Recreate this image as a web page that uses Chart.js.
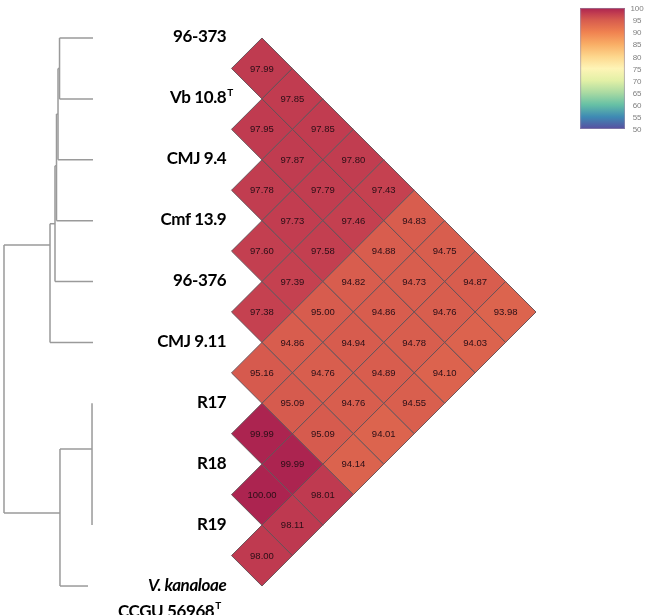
<!DOCTYPE html>
<html>
<head>
<meta charset="utf-8">
<script src="https://cdn.jsdelivr.net/npm/chart.js@4"></script>
<style>
  html, body { margin: 0; padding: 0; background: #fff; }
  #wrap { width: 648px; height: 615px; }
</style>
</head>
<body>
<div id="wrap"><canvas id="myChart"></canvas></div>
<script>
// strains in tree order (top to bottom)
const strains = ["96-373", "Vb 10.8", "CMJ 9.4", "Cmf 13.9", "96-376", "CMJ 9.11", "R17", "R18", "R19", "V. kanaloae"];
const strainLine2 = ["", "", "", "", "", "", "", "", "", "CCGU 56968"];
const typeStrain = [false, true, false, false, false, false, false, false, false, true];
const italicName = [false, false, false, false, false, false, false, false, false, true];

// ANI (%) of each strain against the strains below it
const ani_96373 = [97.99, 97.85, 97.85, 97.80, 97.43, 94.83, 94.75, 94.87, 93.98];
const ani_Vb108 = [97.95, 97.87, 97.79, 97.46, 94.88, 94.73, 94.76, 94.03];
const ani_CMJ94 = [97.78, 97.73, 97.58, 94.82, 94.86, 94.78, 94.10];
const ani_Cmf139 = [97.60, 97.39, 95.00, 94.94, 94.89, 94.55];
const ani_96376 = [97.38, 94.86, 94.76, 94.76, 94.01];
const ani_CMJ911 = [95.16, 95.09, 95.09, 94.14];
const ani_R17 = [99.99, 99.99, 98.01];
const ani_R18 = [100.00, 98.11];
const ani_R19 = [98.00];
const aniRows = [ani_96373, ani_Vb108, ani_CMJ94, ani_Cmf139, ani_96376, ani_CMJ911, ani_R17, ani_R18, ani_R19];

// dendrogram (depth: 0 = root, 1 = tips)
const leafDepth = [1, 1, 1, 1, 1, 1, 0.989, 0.989, 0.989, 0.944];
const nodeNames = ["n1", "n2", "n3", "n4", "n5", "n6", "n7", "root"];
const nodeDepth = [0.624, 0.607, 0.59, 0.573, 0.517, 0.989, 0.629, 0];
const nodeY = [0.5, 1.25, 2.1, 3.05, 3.4, 6.75, 7.8, 5.6];
const nodeChildren = [
  ["96-373", "Vb 10.8"], ["n1", "CMJ 9.4"], ["n2", "Cmf 13.9"], ["n3", "96-376"],
  ["n4", "CMJ 9.11"], ["R17", "R18", "R19"], ["n6", "V. kanaloae"], ["n5", "n7"]
];

// colour bar
const colorTicks = [100, 95, 90, 85, 80, 75, 70, 65, 60, 55, 50];
const cmapVals = [100, 97.5, 95, 90, 85, 80, 75, 70, 65, 60, 55, 50];
const cmapCols = [[172,36,80],[196,64,80],[215,92,78],[240,130,80],[249,174,102],[253,214,140],[254,244,182],[226,240,166],[170,218,162],[102,192,165],[62,138,180],[88,78,160]];

function aniColor(v){
  for (let k = 0; k < cmapVals.length - 1; k++){
    if (v <= cmapVals[k] && v >= cmapVals[k+1]){
      const t = (cmapVals[k] - v) / (cmapVals[k] - cmapVals[k+1]);
      const a = cmapCols[k], b = cmapCols[k+1];
      return `rgb(${Math.round(a[0]+(b[0]-a[0])*t)},${Math.round(a[1]+(b[1]-a[1])*t)},${Math.round(a[2]+(b[2]-a[2])*t)})`;
    }
  }
  return v > 100 ? "rgb(172,36,80)" : "rgb(88,78,160)";
}

function nodePos(name){
  let i = strains.indexOf(name);
  if (i >= 0) return {d: leafDepth[i], y: i};
  i = nodeNames.indexOf(name);
  return {d: nodeDepth[i], y: nodeY[i]};
}

// tree segments
const treeSets = [];
nodeNames.forEach((n, k) => {
  const kids = nodeChildren[k].map(nodePos);
  const ys = kids.map(c => c.y);
  treeSets.push([{x: nodeDepth[k], y: Math.min(...ys)}, {x: nodeDepth[k], y: Math.max(...ys)}]);
  kids.forEach(c => {
    if (c.d > nodeDepth[k]) treeSets.push([{x: nodeDepth[k], y: c.y}, {x: c.d, y: c.y}]);
  });
});

// heatmap cells: centre between the two strains, offset by their distance
const cells = [];
aniRows.forEach((row, i) => {
  row.forEach((v, k) => {
    const j = i + k + 1;
    cells.push({x: j - i, y: (i + j) / 2, v: v});
  });
});

const datasets = treeSets.map(pts => ({
  type: "scatter",
  data: pts,
  xAxisID: "xt",
  yAxisID: "y",
  showLine: true,
  borderColor: "#9a9a9a",
  borderWidth: 1.5,
  pointRadius: 0,
  fill: false
}));

datasets.push({
  type: "scatter",
  data: cells,
  xAxisID: "xh",
  yAxisID: "y",
  pointStyle: "rectRot",
  radius: (ctx) => {
    const s = ctx.chart.scales.y;
    return Math.abs(s.getPixelForValue(0.5) - s.getPixelForValue(0));
  },
  backgroundColor: (ctx) => aniColor(ctx.raw ? ctx.raw.v : 100),
  borderColor: "rgba(100,80,86,0.95)",
  borderWidth: 1
});

const labelPlugin = {
  id: "labels",
  afterDatasetsDraw(chart){
    const c = chart.ctx;
    const xh = chart.scales.xh, y = chart.scales.y, yc = chart.scales.yc;
    // numbers in cells
    const meta = chart.getDatasetMeta(chart.data.datasets.length - 1);
    c.save();
    c.font = "9.5px 'Liberation Sans', Arial, sans-serif";
    c.fillStyle = "#2a0e16";
    c.textAlign = "center";
    c.textBaseline = "middle";
    meta.data.forEach((el, k) => {
      c.fillText(cells[k].v.toFixed(2), el.x, el.y + 0.5);
    });
    // strain names
    const xr = xh.getPixelForValue(-0.17);
    c.fillStyle = "#000";
    c.textAlign = "right";
    c.letterSpacing = "-0.4px";
    const nameFont = "bold 17px Lato, 'Open Sans', sans-serif";
    strains.forEach((s, i) => {
      const py = y.getPixelForValue(i);
      c.font = (italicName[i] ? "italic " : "") + nameFont;
      c.fillText(s, xr, py - 1);
      if (typeStrain[i] && !strainLine2[i]){
        c.font = "bold 10px Lato, sans-serif";
        c.textAlign = "left";
        c.fillText("T", xr + 1, py - 6);
        c.textAlign = "right";
      }
      if (strainLine2[i]){
        c.font = nameFont;
        const x2 = xr - 12;
        c.fillText(strainLine2[i], x2, py + 25);
        if (typeStrain[i]){
          c.font = "bold 10px Lato, sans-serif";
          c.textAlign = "left";
          c.fillText("T", x2 + 1, py + 20);
          c.textAlign = "right";
        }
      }
    });
    c.letterSpacing = "0px";
    // colour bar
    const x0 = xh.getPixelForValue(11.45), x1 = xh.getPixelForValue(12.92);
    const top = yc.getPixelForValue(100), bot = yc.getPixelForValue(50);
    const g = c.createLinearGradient(0, top, 0, bot);
    cmapVals.forEach((v) => g.addColorStop((100 - v) / 50, aniColor(v)));
    c.fillStyle = g;
    c.fillRect(x0, top, x1 - x0, bot - top);
    c.strokeStyle = "rgba(150,140,170,0.6)";
    c.lineWidth = 1;
    c.strokeRect(x0 + 0.5, top + 0.5, x1 - x0 - 1, bot - top - 1);
    c.font = "8px 'Liberation Sans', sans-serif";
    c.fillStyle = "#808080";
    c.textAlign = "center";
    const xt = xh.getPixelForValue(13.32);
    colorTicks.forEach(t => {
      c.fillText(String(t), xt, yc.getPixelForValue(t) + 1);
    });
    c.restore();
  }
};

new Chart(document.getElementById("myChart"), {
  type: "scatter",
  data: { datasets: datasets },
  options: {
    responsive: true,
    maintainAspectRatio: false,
    animation: false,
    layout: { padding: 0 },
    plugins: { legend: { display: false }, tooltip: { enabled: false } },
    scales: {
      xt: { type: "linear", position: "bottom", display: false, min: -0.0449, max: 7.236 },
      xh: { type: "linear", position: "bottom", display: false, min: -7.603, max: 13.678 },
      y: { type: "linear", display: false, reverse: true, min: -0.624, max: 9.476 },
      yc: { type: "linear", display: false, min: -150.83, max: 103.3 }
    }
  },
  plugins: [labelPlugin]
});
</script>
</body>
</html>
